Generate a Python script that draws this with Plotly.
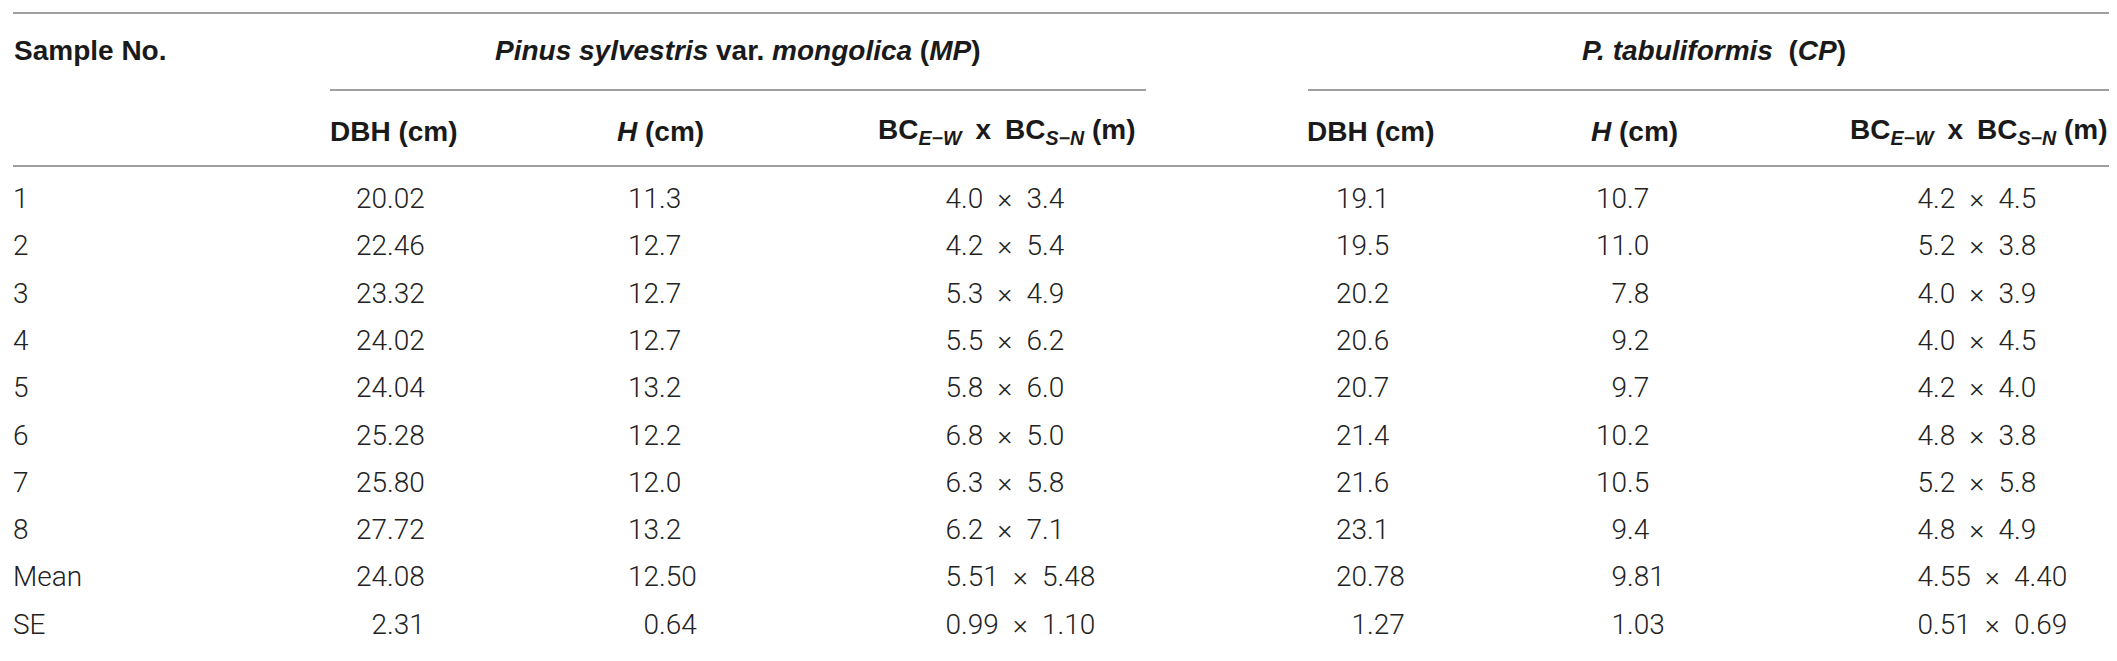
import plotly.graph_objects as go

# table values
samples = ["1", "2", "3", "4", "5", "6", "7", "8", "Mean", "SE"]

mp_dbh = ["20.02", "22.46", "23.32", "24.02", "24.04", "25.28", "25.80", "27.72", "24.08", "2.31"]
mp_h = ["11.3", "12.7", "12.7", "12.7", "13.2", "12.2", "12.0", "13.2", "12.50", "0.64"]
mp_bc_ew = ["4.0", "4.2", "5.3", "5.5", "5.8", "6.8", "6.3", "6.2", "5.51", "0.99"]
mp_bc_sn = ["3.4", "5.4", "4.9", "6.2", "6.0", "5.0", "5.8", "7.1", "5.48", "1.10"]

cp_dbh = ["19.1", "19.5", "20.2", "20.6", "20.7", "21.4", "21.6", "23.1", "20.78", "1.27"]
cp_h = ["10.7", "11.0", "7.8", "9.2", "9.7", "10.2", "10.5", "9.4", "9.81", "1.03"]
cp_bc_ew = ["4.2", "5.2", "4.0", "4.0", "4.2", "4.8", "5.2", "4.8", "4.55", "0.51"]
cp_bc_sn = ["4.5", "3.8", "3.9", "4.5", "4.0", "3.8", "5.8", "4.9", "4.40", "0.69"]

group_titles = ["<i>Pinus sylvestris</i> var. <i>mongolica</i> (<i>MP</i>)",
                "<i>P.</i> <i>tabuliformis</i> \u00a0(<i>CP</i>)"]
col_titles = ["DBH (cm)", "<i>H</i> (cm)",
              "BC<sub><i>E\u2212W</i></sub>\u2002x\u2002BC<sub><i>S\u2212N</i></sub> (m)"]

# layout (pixel units on both axes)
W, H = 2117, 661
ROW0, STEP = 193, 47.3
LEFT, RIGHT = 5, 2112
col_center = [386, 652, 998, 1363, 1626, 1970]
col_dec = [379, 651, 953, 1359, 1619, 1925]
group_span = [(322, 1138), (1300, 2112)]

BODY = dict(family="Roboto", size=28, color="#222222", weight=300)
HEAD = dict(family="Liberation Sans", size=28, color="#1a1a1a", weight="bold")
LINE = dict(color="#7f7f7f", width=1.6)

rows_y = [ROW0 + STEP * i for i in range(len(samples))]

columns = [
    mp_dbh,
    mp_h,
    [f"{a}\u2002\u00d7\u2002{b}" for a, b in zip(mp_bc_ew, mp_bc_sn)],
    cp_dbh,
    cp_h,
    [f"{a}\u2002\u00d7\u2002{b}" for a, b in zip(cp_bc_ew, cp_bc_sn)],
]

fig = go.Figure()

# sample labels
fig.add_trace(go.Scatter(x=[LEFT] * len(samples), y=rows_y, text=samples,
                         mode="text", textposition="middle right",
                         marker=dict(size=0), textfont=BODY, hoverinfo="skip"))

# values, aligned on the decimal point
for xd, vals in zip(col_dec, columns):
    ints = [v.split(".", 1)[0] for v in vals]
    rest = ["." + v.split(".", 1)[1] for v in vals]
    fig.add_trace(go.Scatter(x=[xd] * len(vals), y=rows_y, text=ints,
                             mode="text", textposition="middle left",
                             marker=dict(size=0), textfont=BODY, hoverinfo="skip"))
    fig.add_trace(go.Scatter(x=[xd] * len(vals), y=rows_y, text=rest,
                             mode="text", textposition="middle right",
                             marker=dict(size=0), textfont=BODY, hoverinfo="skip"))

# header texts
fig.add_annotation(x=LEFT, y=42, text="Sample No.", xanchor="left", yanchor="middle",
                   showarrow=False, font=HEAD, borderpad=0)
for (x0, x1), t in zip(group_span, group_titles):
    fig.add_annotation(x=(x0 + x1) / 2, y=42, text=t, xanchor="center", yanchor="middle",
                       showarrow=False, font=HEAD, borderpad=0)
    fig.add_shape(type="line", x0=x0, x1=x1, y0=82, y1=82, line=LINE)
for i, xc in enumerate(col_center):
    fig.add_annotation(x=xc, y=123, text=col_titles[i % 3], xanchor="center",
                       yanchor="middle", showarrow=False, font=HEAD, borderpad=0)

# rules
for yy in [5, 158, 655]:
    fig.add_shape(type="line", x0=LEFT, x1=RIGHT, y0=yy, y1=yy, line=LINE)

fig.update_xaxes(range=[0, W], visible=False, fixedrange=True)
fig.update_yaxes(range=[H, 0], visible=False, fixedrange=True)
fig.update_layout(width=W, height=H, margin=dict(l=0, r=0, t=0, b=0),
                  paper_bgcolor="white", plot_bgcolor="white", showlegend=False)

fig.write_html("out.html", config={"displayModeBar": False})
